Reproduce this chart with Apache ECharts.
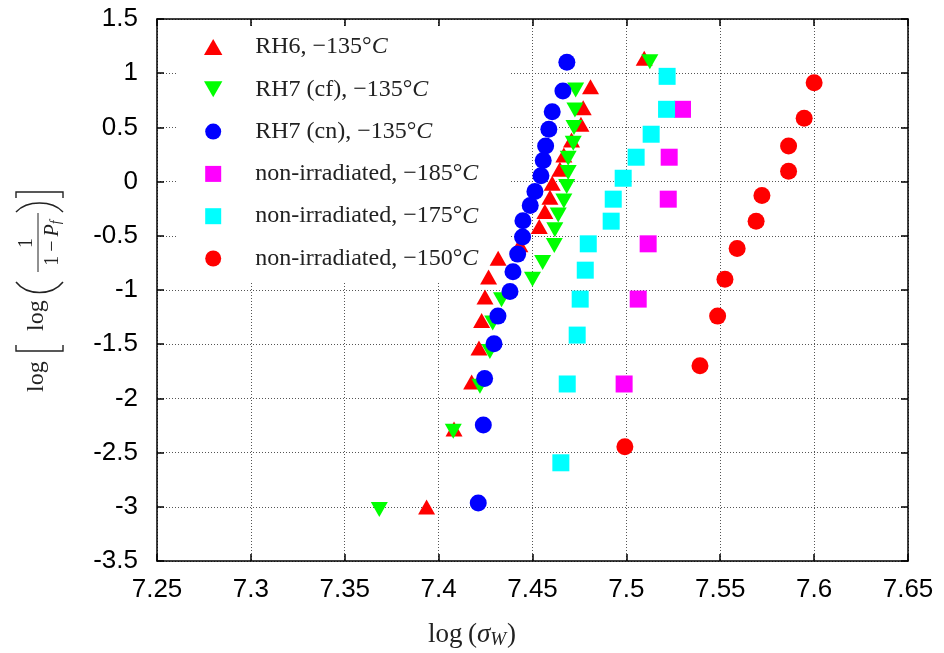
<!DOCTYPE html>
<html>
<head>
<meta charset="utf-8">
<script src="https://cdn.jsdelivr.net/npm/echarts@6/dist/echarts.min.js"></script>
<style>html,body{margin:0;padding:0;background:#fff}#c{width:944px;height:653px}</style>
</head>
<body>
<div id="c"></div>
<script>
// ---- data (x = log(sigma_W), y = log[log(1/(1-Pf))]) ----
var xTicks = { min: 7.25, max: 7.65, interval: 0.05 };
var yTicks = { min: -3.5, max: 1.5, interval: 0.5 };

var seriesNames = [
  'RH6, \u2212135\u00b0C',
  'RH7 (cf), \u2212135\u00b0C',
  'RH7 (cn), \u2212135\u00b0C',
  'non-irradiated, \u2212185\u00b0C',
  'non-irradiated, \u2212175\u00b0C',
  'non-irradiated, \u2212150\u00b0C'
];

var rh6X = [7.5095,7.4809,7.4770,7.4758,7.4708,7.4667,7.4646,7.4605,7.4593,7.4566,7.4536,7.4433,7.4317,7.4266,7.4247,7.4229,7.4215,7.4176,7.4082,7.3936];
var rh6Y = [1.137,0.876,0.682,0.529,0.384,0.246,0.114,-0.015,-0.144,-0.276,-0.415,-0.583,-0.706,-0.881,-1.065,-1.281,-1.536,-1.849,-2.282,-3.001];

var rh7cfX = [7.5125,7.4730,7.4726,7.4721,7.4717,7.4690,7.4690,7.4682,7.4667,7.4637,7.4619,7.4616,7.4554,7.4500,7.4335,7.4288,7.4273,7.4220,7.4078,7.3684];
var rh7cfY = [1.106,0.845,0.661,0.498,0.354,0.216,0.083,-0.046,-0.178,-0.307,-0.445,-0.590,-0.747,-0.900,-1.090,-1.305,-1.567,-1.889,-2.304,-3.026];

var rh7cnX = [7.4683,7.4662,7.4605,7.4587,7.4570,7.4557,7.4545,7.4513,7.4488,7.4449,7.4447,7.4421,7.4396,7.4380,7.4316,7.4295,7.4245,7.4238,7.4211];
var rh7cnY = [1.100,0.836,0.645,0.483,0.329,0.194,0.053,-0.092,-0.221,-0.362,-0.512,-0.669,-0.832,-1.014,-1.241,-1.496,-1.816,-2.245,-2.964];

var n185X = [7.5299,7.5228,7.5223,7.5116,7.5063,7.4988];
var n185Y = [0.667,0.225,-0.162,-0.574,-1.084,-1.867];

var n175X = [7.5217,7.5214,7.5132,7.5052,7.4983,7.4930,7.4919,7.4797,7.4781,7.4754,7.4738,7.4685,7.4651];
var n175Y = [0.971,0.667,0.437,0.225,0.031,-0.162,-0.365,-0.574,-0.817,-1.084,-1.416,-1.867,-2.594];

var n150X = [7.6000,7.5947,7.5864,7.5864,7.5722,7.5691,7.5590,7.5525,7.5486,7.5392,7.4992];
var n150Y = [0.912,0.584,0.329,0.096,-0.129,-0.365,-0.617,-0.900,-1.241,-1.699,-2.445];

// ---- build ----
function zip(xs, ys) { return xs.map(function (x, i) { return [x, ys[i]]; }); }

var UP = 'path://M5,0L10,8.7L0,8.7Z';
var DOWN = 'path://M0,0L10,0L5,8.7Z';
var SQUARE = 'path://M0,0L10,0L10,10L0,10Z';

var specs = [
  { d: zip(rh6X, rh6Y), c: '#ff0000', s: UP, size: [17, 15] },
  { d: zip(rh7cfX, rh7cfY), c: '#00ff00', s: DOWN, size: [17, 15] },
  { d: zip(rh7cnX, rh7cnY), c: '#0000ff', s: 'circle', size: 17 },
  { d: zip(n185X, n185Y), c: '#ff00ff', s: SQUARE, size: 17 },
  { d: zip(n175X, n175Y), c: '#00ffff', s: SQUARE, size: 17 },
  { d: zip(n150X, n150Y), c: '#ff0000', s: 'circle', size: 17 }
];

var series = specs.map(function (sp, i) {
  return {
    type: 'scatter', name: seriesNames[i], data: sp.d,
    symbol: sp.s, symbolSize: sp.size, symbolKeepAspect: false,
    itemStyle: { color: sp.c, opacity: 1 },
    xAxisIndex: 0, yAxisIndex: 0, z: 2 + i * 0.01
  };
});

var serif = '"Liberation Serif", "DejaVu Serif", serif';
var sans = '"Liberation Sans", Arial, sans-serif';
var gridLine = { show: true, lineStyle: { color: '#555', width: 1, type: [1, 2] } };
var frame = { show: true, onZero: false, lineStyle: { color: '#000', width: 1.5 } };
var tickIn = { show: true, inside: true, length: 7, lineStyle: { color: '#000', width: 1.5 } };

var chart = echarts.init(document.getElementById('c'), null, { renderer: 'canvas' });
chart.setOption({
  animation: false,
  backgroundColor: '#fff',
  grid: { left: 157, right: 36, top: 19, bottom: 92, containLabel: false },
  xAxis: [
    { type: 'value', min: xTicks.min, max: xTicks.max, interval: xTicks.interval, position: 'bottom',
      axisLine: frame, axisTick: tickIn, splitLine: gridLine,
      axisLabel: { color: '#000', fontSize: 26, fontFamily: sans, margin: 16 } },
    { type: 'value', min: xTicks.min, max: xTicks.max, interval: xTicks.interval, position: 'top',
      axisLine: frame, axisTick: tickIn, splitLine: { show: false }, axisLabel: { show: false } }
  ],
  yAxis: [
    { type: 'value', min: yTicks.min, max: yTicks.max, interval: yTicks.interval, position: 'left',
      axisLine: frame, axisTick: tickIn, splitLine: gridLine,
      axisLabel: { color: '#000', fontSize: 26, fontFamily: sans, margin: 19 } },
    { type: 'value', min: yTicks.min, max: yTicks.max, interval: yTicks.interval, position: 'right',
      axisLine: frame, axisTick: tickIn, splitLine: { show: false }, axisLabel: { show: false } }
  ],
  legend: {
    orient: 'vertical', left: 176, top: 27, z: 1,
    padding: [8, 32, 12, 28],
    backgroundColor: '#fff',
    itemWidth: 74, itemHeight: 16, itemGap: 18.3,
    symbolKeepAspect: true,
    data: seriesNames.map(function (n, i) {
      return { name: n, icon: specs[i].s };
    }),
    formatter: function (name) { return name.replace(/C$/, '{i|C}'); },
    textStyle: {
      fontFamily: serif, fontSize: 24, color: '#222',
      rich: { i: { fontFamily: serif, fontSize: 24, fontStyle: 'italic', color: '#222' } }
    },
    selectedMode: false
  },
  series: series,
  graphic: [
    // x-axis title: log(sigma_W)
    { type: 'text', left: 'center', top: 621, z: 10,
      style: {
        text: 'log\u2009({s|\u03c3}{w|W})',
        font: '27px ' + serif, fill: '#222',
        rich: {
          s: { fontFamily: serif, fontSize: 27, fontStyle: 'italic', fill: '#222' },
          w: { fontFamily: serif, fontSize: 19, fontStyle: 'italic', fill: '#222', verticalAlign: 'bottom', padding: [10, 1, 0, 0] }
        }
      }
    },
    // y-axis title: log[log(1/(1-P_f))] rotated
    { type: 'group', x: 45, y: 392, rotation: Math.PI / 2, z: 10,
      children: [
        { type: 'text', x: 0, y: -8, style: { text: 'log', font: '24px ' + serif, fill: '#222', align: 'left', verticalAlign: 'middle' } },
        { type: 'polyline', shape: { points: [[47, -29], [41, -29], [41, 18], [47, 18]] }, style: { stroke: '#222', lineWidth: 1.4, fill: null } },
        { type: 'text', x: 61, y: -8, style: { text: 'log', font: '24px ' + serif, fill: '#222', align: 'left', verticalAlign: 'middle' } },
        { type: 'bezierCurve', shape: { x1: 110, y1: -29, cpx1: 96, cpy1: -18, cpx2: 96, cpy2: 7, x2: 110, y2: 18 }, style: { stroke: '#222', lineWidth: 1.5, fill: null } },
        { type: 'text', x: 149, y: -18, style: { text: '1', font: '20px ' + serif, fill: '#222', align: 'center', verticalAlign: 'middle' } },
        { type: 'line', shape: { x1: 120, y1: -7, x2: 179, y2: -7 }, style: { stroke: '#222', lineWidth: 1 } },
        { type: 'text', x: 149, y: 8, style: {
            text: '1\u2009\u2212\u2009{p|P}{f|f}', font: '20px ' + serif, fill: '#222', align: 'center', verticalAlign: 'middle',
            rich: { p: { fontFamily: serif, fontSize: 20, fontStyle: 'italic', fill: '#222' },
                    f: { fontFamily: serif, fontSize: 14, fontStyle: 'italic', fill: '#222', verticalAlign: 'bottom', padding: [7, 0, 0, 0] } } } },
        { type: 'bezierCurve', shape: { x1: 180, y1: -29, cpx1: 192, cpy1: -18, cpx2: 192, cpy2: 7, x2: 180, y2: 18 }, style: { stroke: '#222', lineWidth: 1.5, fill: null } },
        { type: 'polyline', shape: { points: [[194, -29], [200, -29], [200, 18], [194, 18]] }, style: { stroke: '#222', lineWidth: 1.4, fill: null } }
      ]
    }
  ]
});
</script>
</body>
</html>
